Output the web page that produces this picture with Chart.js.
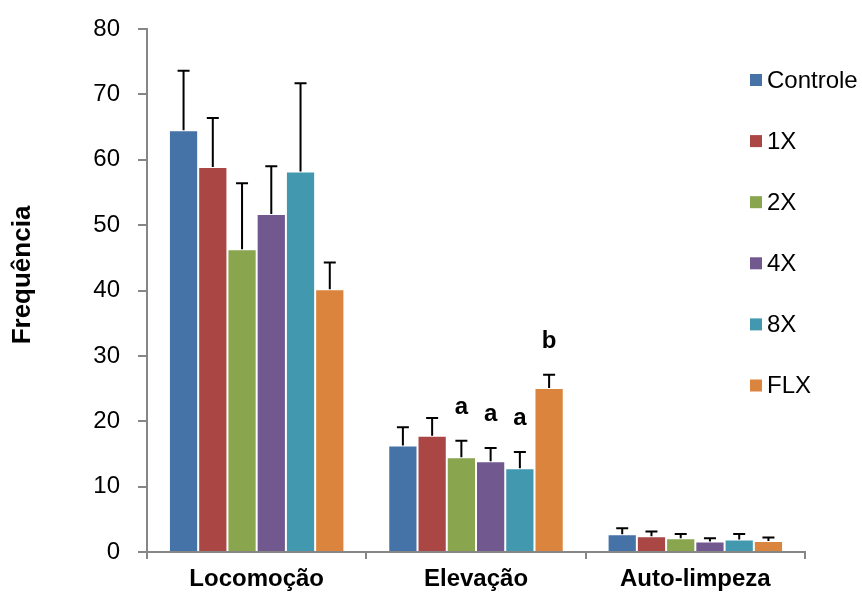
<!DOCTYPE html>
<html lang="pt-BR">
<head>
<meta charset="UTF-8">
<title>Frequência por comportamento</title>
<style>
    body { margin: 0; background: #fff; }
    #wrap { width: 862px; height: 592px; }
</style>
</head>
<body>
<div id="wrap"><canvas id="grafico" width="862" height="592"></canvas></div>

<script src="https://cdn.jsdelivr.net/npm/chart.js"></script>
<script>
    // dados
    const categorias = ['Locomoção', 'Elevação', 'Auto-limpeza'];
    const grupos = ['Controle', '1X', '2X', '4X', '8X', 'FLX'];
    const cores = ['#4572A7', '#AA4643', '#89A54E', '#71588F', '#4198AF', '#DB843D'];

    const valControle = [64.5, 16.3, 2.7];
    const val1X = [58.9, 17.8, 2.4];
    const val2X = [46.3, 14.5, 2.1];
    const val4X = [51.7, 13.9, 1.6];
    const val8X = [58.2, 12.8, 1.9];
    const valFLX = [40.2, 25.1, 1.7];

    const erroControle = [9.1, 2.8, 0.95];
    const erro1X = [7.5, 2.7, 0.75];
    const erro2X = [10.1, 2.5, 0.65];
    const erro4X = [7.3, 2.0, 0.5];
    const erro8X = [13.5, 2.5, 0.85];
    const erroFLX = [4.1, 2.0, 0.5];

    const letrasControle = ['', '', ''];
    const letras1X = ['', '', ''];
    const letras2X = ['', 'a', ''];
    const letras4X = ['', 'a', ''];
    const letras8X = ['', 'a', ''];
    const letrasFLX = ['', 'b', ''];

    const ticksY = [0, 10, 20, 30, 40, 50, 60, 70, 80];
    const tituloY = 'Frequência';

    const valores = [valControle, val1X, val2X, val4X, val8X, valFLX];
    const erros = [erroControle, erro1X, erro2X, erro4X, erro8X, erroFLX];
    const letras = [letrasControle, letras1X, letras2X, letras4X, letras8X, letrasFLX];

    const fonte = "'Liberation Sans', Arial, sans-serif";

    // barras de erro (só para cima) e letras de significância
    const barrasErro = {
        id: 'barrasErro',
        afterDatasetsDraw(chart) {
            const ctx = chart.ctx;
            const y = chart.scales.y;
            ctx.save();
            chart.data.datasets.forEach((ds, d) => {
                const meta = chart.getDatasetMeta(d);
                meta.data.forEach((bar, i) => {
                    const topo = y.getPixelForValue(ds.data[i] + erros[d][i]);
                    ctx.strokeStyle = '#000';
                    ctx.lineWidth = 2;
                    ctx.beginPath();
                    ctx.moveTo(bar.x, bar.y);
                    ctx.lineTo(bar.x, topo);
                    ctx.moveTo(bar.x - 6, topo);
                    ctx.lineTo(bar.x + 6, topo);
                    ctx.stroke();
                    if (letras[d][i]) {
                        ctx.fillStyle = '#000';
                        ctx.font = 'bold 24px ' + fonte;
                        ctx.textAlign = 'center';
                        ctx.textBaseline = 'alphabetic';
                        ctx.fillText(letras[d][i], bar.x, topo - 27);
                    }
                });
            });
            ctx.restore();
        }
    };

    // legenda à direita e título do eixo y, como no original
    const legendaLateral = {
        id: 'legendaLateral',
        afterDraw(chart) {
            const ctx = chart.ctx;
            ctx.save();
            ctx.font = '24px ' + fonte;
            ctx.textBaseline = 'middle';
            ctx.textAlign = 'left';
            grupos.forEach((nome, k) => {
                const yc = 80 + k * 61.1;
                ctx.fillStyle = cores[k];
                ctx.fillRect(750, yc - 6, 12, 12);
                ctx.fillStyle = '#000';
                ctx.fillText(nome, 767, yc + 1);
            });
            ctx.translate(23, 275);
            ctx.rotate(-Math.PI / 2);
            ctx.textAlign = 'center';
            ctx.font = 'bold 26px ' + fonte;
            ctx.fillText(tituloY, 0, 0);
            ctx.restore();
        }
    };

    const config = {
        type: 'bar',
        data: {
            labels: categorias,
            datasets: grupos.map((g, k) => ({
                label: g,
                data: valores[k],
                backgroundColor: cores[k],
                borderColor: 'rgba(255,255,255,0.45)',
                borderWidth: 1,
                categoryPercentage: 0.8,
                barPercentage: 1.0
            }))
        },
        options: {
            responsive: false,
            animation: false,
            layout: { padding: { top: 29, right: 57, left: 0, bottom: 0 } },
            plugins: {
                legend: { display: false },
                tooltip: { enabled: false }
            },
            scales: {
                x: {
                    grid: {
                        display: true,
                        drawOnChartArea: false,
                        drawTicks: true,
                        tickLength: 7,
                        offset: true,
                        color: '#868686',
                        lineWidth: 2
                    },
                    border: { color: '#868686', width: 2 },
                    ticks: {
                        color: '#000',
                        padding: 6,
                        font: { family: fonte, size: 24, weight: 'bold' }
                    },
                    afterFit(scale) {
                        scale.height = 40;
                        scale.paddingLeft = 0;
                        scale.paddingRight = 0;
                    }
                },
                y: {
                    min: 0,
                    max: 80,
                    afterBuildTicks(scale) { scale.ticks = ticksY.map(v => ({ value: v })); },
                    grid: {
                        display: true,
                        drawOnChartArea: false,
                        drawTicks: true,
                        tickLength: 9,
                        color: '#868686',
                        lineWidth: 2
                    },
                    border: { color: '#868686', width: 2 },
                    ticks: {
                        color: '#000',
                        padding: 18,
                        font: { family: fonte, size: 24 }
                    },
                    afterFit(scale) {
                        scale.width = 147;
                        scale.paddingTop = 0;
                        scale.paddingBottom = 0;
                    }
                }
            }
        },
        plugins: [barrasErro, legendaLateral]
    };

    const grafico = new Chart(document.getElementById('grafico'), config);
</script>
</body>
</html>
